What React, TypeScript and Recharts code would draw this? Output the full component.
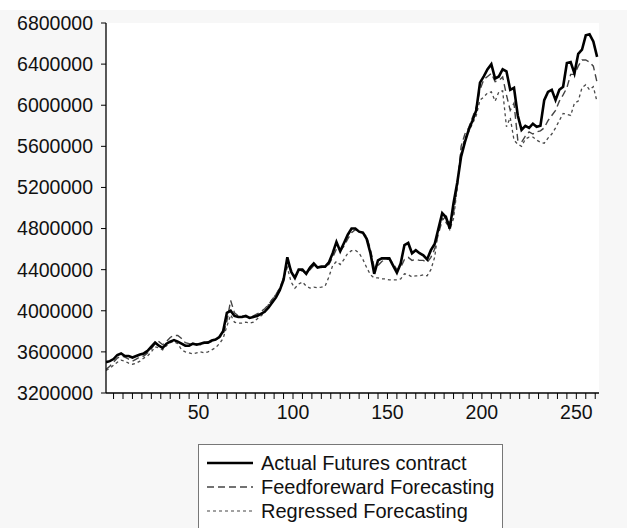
import React from "react";
import { LineChart, Line, XAxis, YAxis, CartesianGrid, Legend } from "recharts";

const obsIndex = [
  1, 3, 5, 7, 9, 11, 13, 15, 17, 19, 21, 23, 25, 27, 29, 31, 33, 35, 37, 39,
  41, 43, 45, 47, 49, 51, 53, 55, 57, 59, 61, 63, 65, 67, 69, 71, 73, 75, 77, 79,
  81, 83, 85, 87, 89, 91, 93, 95, 97, 99, 101, 103, 105, 107, 109, 111, 113, 115, 117, 119,
  121, 123, 125, 127, 129, 131, 133, 135, 137, 139, 141, 143, 145, 147, 149, 151, 153, 155, 157, 159,
  161, 163, 165, 167, 169, 171, 173, 175, 177, 179, 181, 183, 185, 187, 189, 191, 193, 195, 197, 199,
  201, 203, 205, 207, 209, 211, 213, 215, 217, 219, 221, 223, 225, 227, 229, 231, 233, 235, 237, 239,
  241, 243, 245, 247, 249, 251, 253, 255, 257, 259, 261,
];

const actualFutures = [
  3500000, 3510000, 3530000, 3570000, 3585000, 3560000, 3560000, 3545000, 3560000, 3575000,
  3585000, 3610000, 3650000, 3690000, 3660000, 3640000, 3680000, 3700000, 3715000, 3700000,
  3680000, 3660000, 3660000, 3680000, 3670000, 3680000, 3690000, 3690000, 3710000, 3720000,
  3745000, 3800000, 3980000, 4000000, 3950000, 3940000, 3940000, 3950000, 3930000, 3940000,
  3950000, 3970000, 3990000, 4030000, 4080000, 4130000, 4200000, 4300000, 4520000, 4380000,
  4320000, 4400000, 4400000, 4360000, 4420000, 4460000, 4420000, 4430000, 4430000, 4470000,
  4560000, 4670000, 4580000, 4660000, 4740000, 4800000, 4800000, 4770000, 4760000, 4700000,
  4560000, 4360000, 4490000, 4510000, 4510000, 4510000, 4440000, 4370000, 4460000, 4640000,
  4660000, 4560000, 4590000, 4560000, 4540000, 4500000, 4590000, 4650000, 4800000, 4950000,
  4910000, 4800000, 5050000, 5250000, 5500000, 5640000, 5760000, 5850000, 5950000, 6220000,
  6280000, 6350000, 6400000, 6260000, 6280000, 6350000, 6330000, 6150000, 6170000, 5900000,
  5760000, 5800000, 5780000, 5820000, 5790000, 5800000, 6050000, 6130000, 6150000, 6050000,
  6150000, 6180000, 6410000, 6420000, 6310000, 6500000, 6540000, 6680000, 6690000, 6620000,
  6470000,
];

const feedforwardForecast = [
  3430000, 3460000, 3500000, 3540000, 3560000, 3550000, 3530000, 3510000, 3530000, 3550000,
  3560000, 3590000, 3630000, 3680000, 3700000, 3670000, 3700000, 3740000, 3760000, 3760000,
  3730000, 3690000, 3680000, 3670000, 3680000, 3670000, 3680000, 3700000, 3700000, 3720000,
  3740000, 3770000, 3900000, 4100000, 3980000, 3950000, 3950000, 3940000, 3930000, 3950000,
  3970000, 3990000, 4020000, 4060000, 4110000, 4160000, 4220000, 4320000, 4450000, 4400000,
  4330000, 4380000, 4390000, 4360000, 4400000, 4440000, 4420000, 4420000, 4430000, 4450000,
  4520000, 4600000, 4580000, 4630000, 4700000, 4760000, 4790000, 4770000, 4760000, 4720000,
  4600000, 4420000, 4440000, 4480000, 4500000, 4500000, 4460000, 4400000, 4420000, 4500000,
  4520000, 4490000, 4500000, 4490000, 4490000, 4470000, 4520000, 4600000, 4750000, 4880000,
  4920000, 4850000, 4950000, 5220000, 5600000, 5720000, 5780000, 5880000, 5980000, 6150000,
  6250000, 6280000, 6310000, 6230000, 6240000, 6275000, 6100000, 5950000, 6020000, 5660000,
  5640000, 5700000, 5740000, 5720000, 5740000, 5750000, 5780000, 5850000, 5900000, 5950000,
  6040000, 6100000, 6170000, 6300000, 6300000, 6380000, 6440000, 6440000, 6420000, 6380000,
  6220000,
];

const regressedForecast = [
  3420000, 3440000, 3470000, 3500000, 3520000, 3510000, 3490000, 3480000, 3490000, 3510000,
  3540000, 3560000, 3600000, 3650000, 3640000, 3620000, 3660000, 3690000, 3700000, 3680000,
  3620000, 3600000, 3590000, 3580000, 3590000, 3600000, 3590000, 3600000, 3620000, 3640000,
  3680000, 3730000, 3850000, 3960000, 3890000, 3880000, 3880000, 3890000, 3880000, 3890000,
  3920000, 3950000, 3980000, 4060000, 4110000, 4160000, 4220000, 4320000, 4420000, 4280000,
  4220000, 4260000, 4280000, 4240000, 4220000, 4230000, 4225000, 4230000, 4240000, 4330000,
  4440000, 4480000, 4450000, 4500000, 4560000, 4585000, 4590000, 4560000, 4500000, 4420000,
  4350000, 4320000, 4320000, 4310000, 4310000, 4300000, 4300000, 4300000, 4310000, 4360000,
  4350000, 4330000, 4340000, 4340000, 4350000, 4340000, 4400000, 4520000, 4800000, 4900000,
  4860000, 4790000, 4900000, 5200000, 5550000, 5680000, 5740000, 5820000, 5900000, 6050000,
  6080000, 6120000, 6130000, 6040000, 6130000, 6140000, 5790000, 5880000, 5660000, 5620000,
  5600000, 5670000, 5690000, 5690000, 5660000, 5640000, 5630000, 5680000, 5720000, 5780000,
  5850000, 5920000, 5910000, 5900000, 6020000, 6040000, 6170000, 6200000, 6150000, 6180000,
  6030000,
];

const yTicks = [3200000, 3600000, 4000000, 4400000, 4800000, 5200000, 5600000, 6000000, 6400000, 6800000];
const xTicks = [5, 10, 15, 20, 25, 30, 35, 40, 45, 50, 55, 60, 65, 70, 75, 80, 85, 90, 95, 100,
  105, 110, 115, 120, 125, 130, 135, 140, 145, 150, 155, 160, 165, 170, 175, 180, 185, 190, 195, 200,
  205, 210, 215, 220, 225, 230, 235, 240, 245, 250, 255, 260];
const xLabelTicks = [50, 100, 150, 200, 250];

const seriesNames = ["Actual Futures contract", "Feedforeward Forecasting", "Regressed Forecasting"];

const data = obsIndex.map((t, i) => ({
  t,
  actual: actualFutures[i],
  feed: feedforwardForecast[i],
  reg: regressedForecast[i],
}));

const FONT = "'Liberation Sans', Arial, sans-serif";

const LegendBox = () => {
  const rows = [
    { name: seriesNames[0], stroke: "#000", w: 2.6, dash: undefined },
    { name: seriesNames[1], stroke: "#444", w: 1.4, dash: "7 4" },
    { name: seriesNames[2], stroke: "#444", w: 1.2, dash: "3 3" },
  ];
  return (
    <div
      style={{
        position: "absolute",
        left: 198,
        top: 444,
        width: 305,
        height: 90,
        background: "#fff",
        border: "1.5px solid #777",
        boxSizing: "border-box",
        fontFamily: FONT,
      }}
    >
      {rows.map((r, k) => (
        <div
          key={k}
          style={{
            position: "absolute",
            left: 0,
            top: 6 + k * 24,
            height: 24,
            display: "flex",
            alignItems: "center",
            whiteSpace: "nowrap",
          }}
        >
          <svg width={58} height={24} style={{ display: "block" }}>
            <line x1={8} x2={54} y1={12} y2={12} stroke={r.stroke} strokeWidth={r.w} strokeDasharray={r.dash} />
          </svg>
          <span style={{ fontSize: 20, color: "#111", marginLeft: 4 }}>{r.name}</span>
        </div>
      ))}
    </div>
  );
};

export default function App() {
  return (
    <div style={{ position: "absolute", left: 0, top: 0, width: 627, height: 528, background: "#f7f7f7", overflow: "hidden" }}>
      <div style={{ position: "absolute", left: 0, top: 0, width: 627, height: 10, background: "#fff" }} />
      <LineChart
        width={627}
        height={528}
        data={data}
        margin={{ top: 23, right: 28, left: 0, bottom: 105 }}
        style={{ position: "absolute", left: 0, top: 0 }}
      >
        <CartesianGrid horizontal={false} vertical={false} fill="#fff" />
        <XAxis
          dataKey="t"
          type="number"
          domain={[1, 262]}
          ticks={xTicks}
          interval={0}
          allowDataOverflow
          tickFormatter={(v: number) => (xLabelTicks.includes(v) ? String(v) : "")}
          axisLine={{ stroke: "#000", strokeWidth: 1.3 }}
          tickLine={{ stroke: "#000" }}
          tickSize={6}
          tickMargin={6}
          height={30}
          tick={{ fill: "#111", fontSize: 19.5, fontFamily: FONT }}
        />
        <XAxis xAxisId="top" orientation="top" dataKey="t" type="number" domain={[1, 262]} tick={false} tickLine={false} axisLine={{ stroke: "#000", strokeWidth: 1.3 }} height={0} />
        <YAxis
          type="number"
          domain={[3200000, 6800000]}
          ticks={yTicks}
          interval={0}
          allowDataOverflow
          axisLine={{ stroke: "#000", strokeWidth: 1.3 }}
          tickLine={{ stroke: "#000" }}
          tickSize={5}
          tickMargin={8}
          width={106}
          tick={{ fill: "#111", fontSize: 19.5, fontFamily: FONT }}
        />
        <YAxis yAxisId="right" orientation="right" domain={[3200000, 6800000]} tick={false} tickLine={false} axisLine={{ stroke: "#000", strokeWidth: 1.3 }} width={0} />
        <Line type="linear" dataKey="reg" name={seriesNames[2]} stroke="#4a4a4a" strokeWidth={1.3} strokeDasharray="3 3" dot={false} isAnimationActive={false} />
        <Line type="linear" dataKey="feed" name={seriesNames[1]} stroke="#444" strokeWidth={1.4} strokeDasharray="7 4" dot={false} isAnimationActive={false} />
        <Line type="linear" dataKey="actual" name={seriesNames[0]} stroke="#000" strokeWidth={2.6} dot={false} isAnimationActive={false} />
        <Legend content={() => null} />
      </LineChart>
      <LegendBox />
    </div>
  );
}
